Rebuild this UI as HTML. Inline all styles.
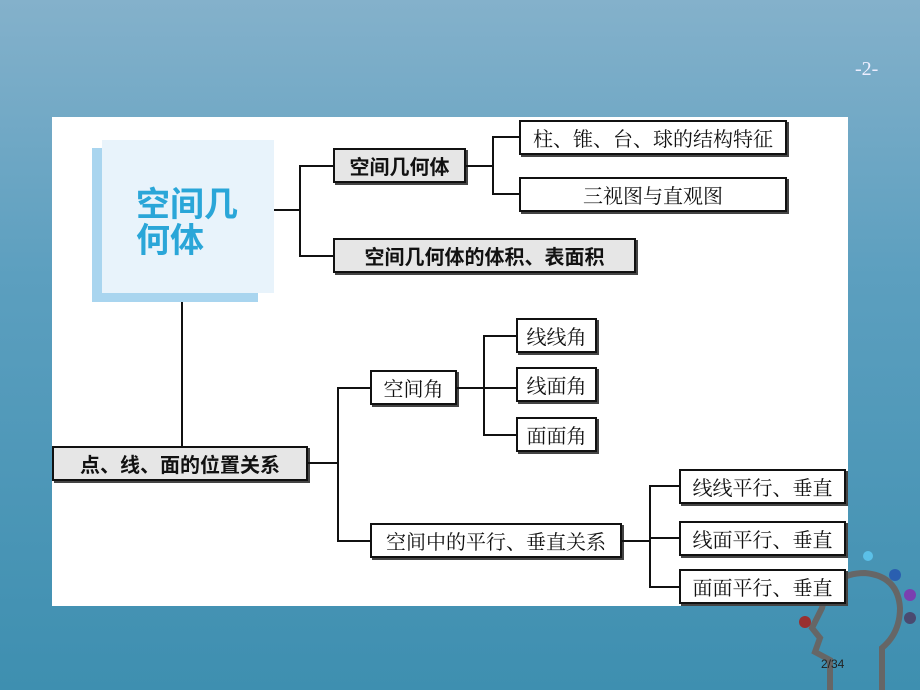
<!DOCTYPE html>
<html><head><meta charset="utf-8"><style>
*{margin:0;padding:0;box-sizing:border-box}
body{width:920px;height:690px;overflow:hidden;position:relative;background:linear-gradient(180deg,#84b1cb 0%,#5c9fbf 40%,#3e8fb0 100%);font-family:"Liberation Sans","Noto Sans CJK SC",sans-serif}
.panel{position:absolute;left:52px;top:117px;width:796px;height:489px;background:#fff}
.b{position:absolute;border:2px solid #111;box-shadow:2px 2px 0 #444;background:#fff;display:flex;align-items:center;justify-content:center;font-size:20px;color:#111;font-family:"Liberation Serif","Noto Serif CJK SC",serif;white-space:nowrap}
.g{background:#e6e6e6;font-weight:bold;font-family:"Liberation Sans","Noto Sans CJK SC",sans-serif}
.l{position:absolute;background:#111}
</style></head><body>
<div style="position:absolute;left:855px;top:58px;color:#eef;font-family:'Liberation Serif',serif;font-size:20px">-2-</div>
<svg style="position:absolute;left:780px;top:540px" width="140" height="150">
<path d="M50 150 L50 120 L35 112 L40 98 L32 88 L42 68 Q50 33 85 33 Q118 36 120 68 Q120 93 102 108 L102 150" fill="none" stroke="#666" stroke-width="6"/>
<circle cx="88" cy="16" r="5" fill="#5bc0e8"/><circle cx="115" cy="35" r="6" fill="#2a5fb0"/>
<circle cx="130" cy="55" r="6" fill="#7a3fb0"/><circle cx="130" cy="78" r="6" fill="#4a4a70"/>
<circle cx="25" cy="82" r="6" fill="#9a3030"/>
</svg>
<div class="panel"></div>
<div style="position:absolute;left:92px;top:148px;width:166px;height:154px;background:#a9d5ef"></div>
<div style="position:absolute;left:102px;top:140px;width:172px;height:153px;background:#e8f3fb"></div>
<div style="position:absolute;left:136px;top:184px;font-size:34px;line-height:36px;color:#2aa6d8;font-family:'Noto Sans CJK SC',sans-serif;font-weight:bold">空间几<br>何体</div>

<div class="b g" style="left:333px;top:148px;width:133px;height:35px">空间几何体</div>
<div class="b" style="left:519px;top:120px;width:268px;height:35px">柱、锥、台、球的结构特征</div>
<div class="b" style="left:519px;top:177px;width:268px;height:35px">三视图与直观图</div>
<div class="b g" style="left:333px;top:238px;width:303px;height:35px">空间几何体的体积、表面积</div>
<div class="b g" style="left:52px;top:446px;width:256px;height:35px">点、线、面的位置关系</div>
<div class="b" style="left:370px;top:370px;width:87px;height:35px">空间角</div>
<div class="b" style="left:516px;top:318px;width:81px;height:35px">线线角</div>
<div class="b" style="left:516px;top:367px;width:81px;height:35px">线面角</div>
<div class="b" style="left:516px;top:417px;width:81px;height:35px">面面角</div>
<div class="b" style="left:370px;top:523px;width:252px;height:35px">空间中的平行、垂直关系</div>
<div class="b" style="left:679px;top:469px;width:167px;height:35px">线线平行、垂直</div>
<div class="b" style="left:679px;top:521px;width:167px;height:35px">线面平行、垂直</div>
<div class="b" style="left:679px;top:569px;width:167px;height:35px">面面平行、垂直</div>

<div class="l" style="left:274px;top:209px;width:27px;height:2px"></div>
<div class="l" style="left:299px;top:165px;width:2px;height:92px"></div>
<div class="l" style="left:299px;top:165px;width:34px;height:2px"></div>
<div class="l" style="left:299px;top:255px;width:34px;height:2px"></div>
<div class="l" style="left:466px;top:165px;width:28px;height:2px"></div>
<div class="l" style="left:492px;top:136px;width:2px;height:59px"></div>
<div class="l" style="left:492px;top:136px;width:27px;height:2px"></div>
<div class="l" style="left:492px;top:193px;width:27px;height:2px"></div>
<div class="l" style="left:181px;top:302px;width:2px;height:144px"></div>
<div class="l" style="left:308px;top:462px;width:31px;height:2px"></div>
<div class="l" style="left:337px;top:387px;width:2px;height:155px"></div>
<div class="l" style="left:337px;top:387px;width:33px;height:2px"></div>
<div class="l" style="left:337px;top:540px;width:33px;height:2px"></div>
<div class="l" style="left:457px;top:387px;width:28px;height:2px"></div>
<div class="l" style="left:483px;top:335px;width:2px;height:101px"></div>
<div class="l" style="left:483px;top:335px;width:33px;height:2px"></div>
<div class="l" style="left:483px;top:387px;width:33px;height:2px"></div>
<div class="l" style="left:483px;top:434px;width:33px;height:2px"></div>
<div class="l" style="left:622px;top:540px;width:29px;height:2px"></div>
<div class="l" style="left:649px;top:485px;width:2px;height:103px"></div>
<div class="l" style="left:649px;top:485px;width:30px;height:2px"></div>
<div class="l" style="left:649px;top:537px;width:30px;height:2px"></div>
<div class="l" style="left:649px;top:586px;width:30px;height:2px"></div>

<div style="position:absolute;left:821px;top:657px;font-size:12px;color:#222">2/34</div>
</body></html>
